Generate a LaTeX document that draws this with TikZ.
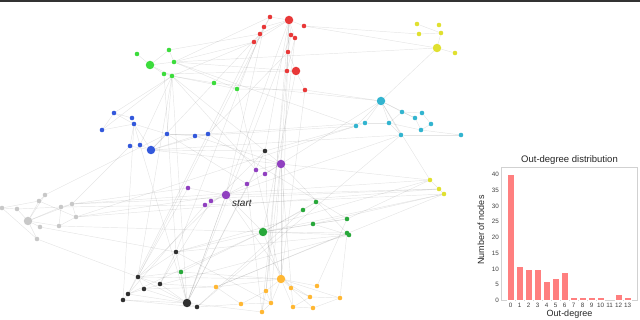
\documentclass[tikz,border=0pt]{standalone}
\usepackage{fontspec}
\setmainfont{Liberation Sans}
\usetikzlibrary{backgrounds}
\definecolor{cred}{HTML}{E83838}
\definecolor{clime}{HTML}{3CDC3C}
\definecolor{cblue}{HTML}{3358DB}
\definecolor{cyel}{HTML}{E0E030}
\definecolor{ccyan}{HTML}{33B4CF}
\definecolor{cgray}{HTML}{C8C8C8}
\definecolor{cpurp}{HTML}{9040C0}
\definecolor{cblack}{HTML}{303030}
\definecolor{cdgreen}{HTML}{28A83A}
\definecolor{corange}{HTML}{FFB733}
\definecolor{cbar}{HTML}{FF7F7F}
\tikzset{
  dot/.style={circle,inner sep=0pt,minimum size=4.6pt,fill=#1},
  bigdot/.style={circle,inner sep=0pt,minimum size=8.5pt,fill=#1},
  edge/.style={draw=black,draw opacity=0.1,line width=0.45pt},
  bar/.style={fill=cbar,draw=white,line width=0.3pt},
  tick/.style={font=\fontsize{6.3}{7}\selectfont,text=black!75,inner sep=1pt},
  axlab/.style={font=\fontsize{9}{10}\selectfont,text=black!85,inner sep=0pt}
}
\begin{document}
\begin{tikzpicture}[x=1pt,y=-1pt]
\useasboundingbox (0,0) rectangle (640,320);
\draw[line width=1.7pt,black!80] (0,0.85) -- (640,0.85);
% red
\node[bigdot=cred] (r1) at (289,20) {};
\node[dot=cred] (r2) at (270,17) {};
\node[dot=cred] (r3) at (304,26) {};
\node[dot=cred] (r4) at (264,27) {};
\node[dot=cred] (r5) at (260,34) {};
\node[dot=cred] (r6) at (254,42) {};
\node[dot=cred] (r7) at (291,35) {};
\node[dot=cred] (r8) at (295,38) {};
\node[dot=cred] (r9) at (288,52) {};
\node[dot=cred] (r10) at (287,71) {};
\node[bigdot=cred] (r11) at (296,71) {};
\node[dot=cred] (r12) at (305,90) {};
% lime
\node[bigdot=clime] (l1) at (150,65) {};
\node[dot=clime] (l2) at (137,54) {};
\node[dot=clime] (l3) at (169,50) {};
\node[dot=clime] (l4) at (174,62) {};
\node[dot=clime] (l5) at (164,74) {};
\node[dot=clime] (l6) at (172,76) {};
\node[dot=clime] (l7) at (214,83) {};
\node[dot=clime] (l8) at (237,89) {};
% blue
\node[bigdot=cblue] (b1) at (151,150) {};
\node[dot=cblue] (b2) at (114,113) {};
\node[dot=cblue] (b3) at (132,118) {};
\node[dot=cblue] (b4) at (134,124) {};
\node[dot=cblue] (b5) at (102,130) {};
\node[dot=cblue] (b6) at (167,134) {};
\node[dot=cblue] (b7) at (195,136) {};
\node[dot=cblue] (b8) at (208,134) {};
\node[dot=cblue] (b9) at (130,146) {};
\node[dot=cblue] (b10) at (140,145) {};
% yellow
\node[bigdot=cyel] (y1) at (437,48) {};
\node[dot=cyel] (y2) at (417,24) {};
\node[dot=cyel] (y3) at (439,25) {};
\node[dot=cyel] (y4) at (419,34) {};
\node[dot=cyel] (y5) at (441,33) {};
\node[dot=cyel] (y6) at (455,53) {};
\node[dot=cyel] (y7) at (430,180) {};
\node[dot=cyel] (y8) at (439,189) {};
\node[dot=cyel] (y9) at (444,194) {};
% cyan
\node[bigdot=ccyan] (c1) at (381,101) {};
\node[dot=ccyan] (c2) at (402,112) {};
\node[dot=ccyan] (c3) at (422,113) {};
\node[dot=ccyan] (c4) at (415,118) {};
\node[dot=ccyan] (c5) at (431,124) {};
\node[dot=ccyan] (c6) at (356,126) {};
\node[dot=ccyan] (c7) at (365,123) {};
\node[dot=ccyan] (c8) at (389,123) {};
\node[dot=ccyan] (c9) at (421,130) {};
\node[dot=ccyan] (c10) at (401,135) {};
\node[dot=ccyan] (c11) at (461,135) {};
% black
\node[dot=cblack] (k1) at (265,151) {};
\node[dot=cblack] (k2) at (176,252) {};
\node[dot=cblack] (k3) at (138,277) {};
\node[dot=cblack] (k4) at (160,284) {};
\node[dot=cblack] (k5) at (144,289) {};
\node[dot=cblack] (k6) at (128,294) {};
\node[dot=cblack] (k7) at (123,300) {};
\node[bigdot=cblack] (k8) at (187,303) {};
\node[dot=cblack] (k9) at (197,307) {};
% purple
\node[bigdot=cpurp] (p1) at (226,195) {};
\node[bigdot=cpurp] (p2) at (281,164) {};
\node[dot=cpurp] (p3) at (256,170) {};
\node[dot=cpurp] (p4) at (265,174) {};
\node[dot=cpurp] (p5) at (247,184) {};
\node[dot=cpurp] (p6) at (188,188) {};
\node[dot=cpurp] (p7) at (211,201) {};
\node[dot=cpurp] (p8) at (205,205) {};
% gray
\node[bigdot=cgray] (q1) at (28,221) {};
\node[dot=cgray] (q2) at (45,195) {};
\node[dot=cgray] (q3) at (39,201) {};
\node[dot=cgray] (q4) at (2,208) {};
\node[dot=cgray] (q5) at (17,209) {};
\node[dot=cgray] (q6) at (72,204) {};
\node[dot=cgray] (q7) at (61,207) {};
\node[dot=cgray] (q8) at (76,217) {};
\node[dot=cgray] (q9) at (40,227) {};
\node[dot=cgray] (q10) at (59,226) {};
\node[dot=cgray] (q11) at (37,239) {};
% dark green
\node[bigdot=cdgreen] (d1) at (263,232) {};
\node[dot=cdgreen] (d2) at (303,210) {};
\node[dot=cdgreen] (d3) at (316,202) {};
\node[dot=cdgreen] (d4) at (313,224) {};
\node[dot=cdgreen] (d5) at (347,219) {};
\node[dot=cdgreen] (d6) at (347,233) {};
\node[dot=cdgreen] (d7) at (349,235) {};
\node[dot=cdgreen] (d8) at (181,272) {};
% orange
\node[bigdot=corange] (o1) at (281,279) {};
\node[dot=corange] (o2) at (216,287) {};
\node[dot=corange] (o3) at (266,291) {};
\node[dot=corange] (o4) at (291,288) {};
\node[dot=corange] (o5) at (317,286) {};
\node[dot=corange] (o6) at (310,297) {};
\node[dot=corange] (o7) at (340,298) {};
\node[dot=corange] (o8) at (241,304) {};
\node[dot=corange] (o9) at (271,303) {};
\node[dot=corange] (o10) at (293,307) {};
\node[dot=corange] (o11) at (313,308) {};
\node[dot=corange] (o12) at (262,312) {};
\node[font=\fontsize{10}{12}\selectfont\itshape,text=black!85,anchor=base west,inner sep=0pt] (startlab) at (232,206.5) {start};
\begin{scope}[on background layer]
\foreach \a/\b in {r1/r2,r1/r3,r1/r4,r1/r5,r1/r6,r1/r7,r1/r8,r1/r9,r2/r4,r4/r5,r5/r6,r7/r9,r9/r10,r10/r11,r9/r11,r11/r12,r8/r10,
 l1/l2,l1/l3,l1/l4,l1/l5,l1/l6,l4/l3,l5/l6,l6/l7,l4/l8,l6/l8,
 b1/b9,b1/b10,b1/b4,b1/b6,b1/b7,b1/b8,b4/b3,b4/b2,b4/b5,b4/b9,b4/b10,b4/b6,b5/b2,b6/b7,b6/b8,b3/b2,
 y1/y5,y1/y6,y5/y4,y5/y2,y7/y8,y8/y9,
 c1/c2,c1/c6,c1/c7,c1/c8,c1/c10,c1/c4,c2/c3,c2/c4,c4/c9,c3/c5,c5/c9,c9/c11,c10/c11,c7/c8,c8/c10,c8/c9,c6/c7,c8/c2,
 q1/q2,q1/q3,q1/q5,q1/q6,q1/q7,q1/q9,q1/q10,q1/q11,q3/q4,q5/q4,q3/q8,q7/q6,q7/q10,q6/q8,q2/q3,q4/q11,q5/q7,q8/q10,
 k8/k2,k8/k3,k8/k4,k8/k5,k8/k6,k8/k7,k8/k9,k3/k5,k3/k4,k6/k5,k7/k9,k2/k3,k2/k4,
 p1/p6,p1/p7,p1/p8,p1/p5,p2/p3,p2/p4,p2/p5,p2/k1,
 d1/d2,d1/d3,d1/d4,d1/d5,d1/d6,d1/d7,d4/d5,d2/d3,d4/d7,
 o1/o2,o1/o3,o1/o4,o1/o5,o1/o6,o1/o7,o1/o9,o1/o10,o3/o8,o3/o9,o3/o12,o4/o11,o6/o7,o6/o10,o8/o9,o9/o12,o10/o11,o11/o7,o2/o8,o4/o6}
  \draw[edge] (\a) -- (\b);
\foreach \a/\b in {r1/k8,r1/o1,r1/k1,r1/o3,r2/k3,r4/p1,r5/k2,r6/l4,r6/l6,r2/l4,r4/l8,r9/o12,r10/o9,r11/d1,r12/o1,r12/c1,r3/y4,r7/k8,r8/o3,r9/b8,r5/b1,r6/k6,r10/l5,r11/l4,r3/y1,
 l6/k1,l6/k3,l6/b2,l6/b5,l6/b6,l6/p3,l6/b10,l6/k8,l5/k2,l4/y1,l7/c1,l8/o1,l3/r5,l4/c6,
 b1/k1,b1/p2,b7/p2,b8/d5,b10/k8,b6/p5,b9/q6,b1/c10,b7/c6,b4/k7,
 k1/k3,q6/p6,q8/p1,q6/y7,q8/c6,q2/b6,q9/k2,q11/k3,q10/d1,q7/p8,q6/y8,
 p1/d1,p1/k8,p1/o4,p1/y8,p2/y7,p2/d6,p2/o1,p2/c1,p2/o10,p3/k8,p5/o12,p8/k7,p6/k6,p7/k4,
 d1/k2,d1/o1,d1/y9,d1/k6,d2/k9,d4/y9,d5/y7,d6/o2,d7/k5,d8/k8,d8/o1,d8/k3,d8/d1,
 y7/k2,y8/q8,y9/p8,y9/o2,c6/k1,c10/p1,c10/k9,c7/b8,
 o2/k5,o1/k3,o8/k9,o12/k8,o7/d6,o5/d5,o2/k4,k2/o9,k2/d7,c1/y1,c1/y7,r12/l8,k1/o9,k1/k8}
  \draw[edge] (\a) -- (\b);
\end{scope}
% chart
\node[font=\fontsize{9.5}{11}\selectfont,text=black!85,inner sep=0pt] (title) at (569.5,160) {Out-degree distribution};
\node[draw=black!18,line width=0.5pt,minimum width=135.5pt,minimum height=133pt,inner sep=0pt] (frame) at (569.25,234) {};
\foreach \v [count=\i from 0] in {40,11,10,10,6,7,9,1,1,1,1,0,2,1} {
  \ifnum\v>0
  \fill[bar] ({507.3+9*\i},300.5) rectangle ++(6.8,{-3.15*\v});
  \fi
  \node[tick,anchor=north] (xt\i) at ({510.7+9*\i},301.5) {\i};
}
\foreach \t in {0,5,...,40} {
  \node[tick,anchor=east] (yt\t) at (500,{300.5-3.15*\t}) {\t};
}
\node[axlab,rotate=90] (ylab) at (481,230) {Number of nodes};
\node[axlab] (xlab) at (569.5,314) {Out-degree};
\end{tikzpicture}
\end{document}
